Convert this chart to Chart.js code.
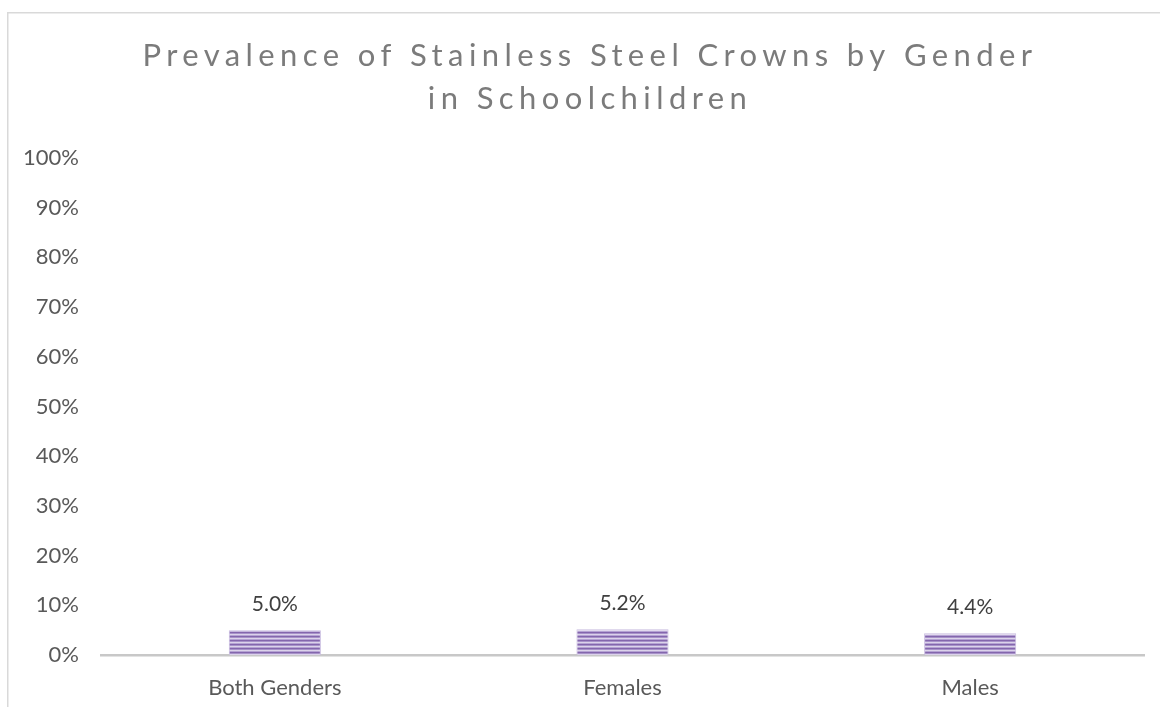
<!DOCTYPE html>
<html>
<head>
<meta charset="utf-8">
<script src="https://cdn.jsdelivr.net/npm/chart.js@4.4.1/dist/chart.umd.min.js"></script>
<style>
  html, body { margin: 0; padding: 0; background: #ffffff; }
  #wrap { position: relative; width: 1160px; height: 707px; }
</style>
</head>
<body>
<div id="wrap"><canvas id="chart" width="1160" height="707"></canvas></div>
<script>
// Chart content
const titleLines = ['Prevalence of Stainless Steel Crowns by Gender', 'in Schoolchildren'];
const categories = ['Both Genders', 'Females', 'Males'];
const prevalence = [5.0, 5.2, 4.4];
const yTicks = [0, 10, 20, 30, 40, 50, 60, 70, 80, 90, 100];

// Horizontal purple stripes used as the bar fill
function makeStripes() {
  const c = document.createElement('canvas');
  c.width = 8; c.height = 4;
  const g = c.getContext('2d');
  const rows = ['#8466ad', '#a792c9', '#dcd3ea', '#b5a3d3'];
  rows.forEach((col, i) => { g.fillStyle = col; g.fillRect(0, i, 8, 1); });
  return g.createPattern(c, 'repeat');
}

// Outer frame lines and the spaced-out title
const framePlugin = {
  id: 'frame',
  beforeDraw(chart) {
    const ctx = chart.ctx;
    ctx.save();
    ctx.fillStyle = '#ffffff';
    ctx.fillRect(0, 0, chart.width, chart.height);
    ctx.strokeStyle = '#d9d9d9';
    ctx.lineWidth = 1.5;
    ctx.beginPath();
    ctx.moveTo(7.75, chart.height);
    ctx.lineTo(7.75, 12.75);
    ctx.lineTo(chart.width, 12.75);
    ctx.stroke();
    ctx.restore();
  },
  afterDraw(chart) {
    const ctx = chart.ctx;
    ctx.save();
    ctx.fillStyle = '#7b7b7b';
    ctx.font = '400 31px Lato';
    ctx.textAlign = 'center';
    ctx.textBaseline = 'middle';
    if ('letterSpacing' in ctx) ctx.letterSpacing = '5.4px';
    titleLines.forEach((line, i) => ctx.fillText(line, 590, 56 + i * 43));
    ctx.restore();
  }
};

// Value labels above each bar
const valueLabels = {
  id: 'valueLabels',
  afterDatasetsDraw(chart) {
    const ctx = chart.ctx;
    const meta = chart.getDatasetMeta(0);
    ctx.save();
    ctx.fillStyle = '#404040';
    ctx.font = '21px Lato';
    ctx.textAlign = 'center';
    ctx.textBaseline = 'middle';
    meta.data.forEach((bar, i) => {
      ctx.fillText(prevalence[i].toFixed(1) + '%', bar.x, bar.y - 26);
    });
    ctx.restore();
  }
};

new Chart(document.getElementById('chart'), {
  type: 'bar',
  data: {
    labels: categories,
    datasets: [{
      data: prevalence,
      backgroundColor: makeStripes(),
      borderColor: '#c9bce0',
      borderWidth: 1,
      borderSkipped: 'bottom',
      barPercentage: 1,
      categoryPercentage: 0.265
    }]
  },
  options: {
    responsive: false,
    animation: false,
    devicePixelRatio: 1,
    layout: { padding: { top: 158, right: 16, bottom: 0, left: 0 } },
    plugins: {
      legend: { display: false },
      title: { display: false },
      tooltip: { enabled: false }
    },
    scales: {
      x: {
        grid: { display: false, drawTicks: false },
        border: { display: true, color: '#c8c8c8', width: 2.5 },
        ticks: { color: '#595959', font: { family: 'Lato', size: 22 }, padding: 20 },
        afterFit(s) { s.height = 52; }
      },
      y: {
        min: 0,
        max: 100,
        afterBuildTicks(s) { s.ticks = yTicks.map(v => ({ value: v })); },
        grid: { display: false, drawTicks: false },
        border: { display: false },
        ticks: {
          color: '#595959',
          font: { family: 'Lato', size: 22 },
          padding: 22,
          callback: v => v + '%'
        },
        afterFit(s) { s.width = 101; }
      }
    }
  },
  plugins: [framePlugin, valueLabels]
});
</script>
</body>
</html>
